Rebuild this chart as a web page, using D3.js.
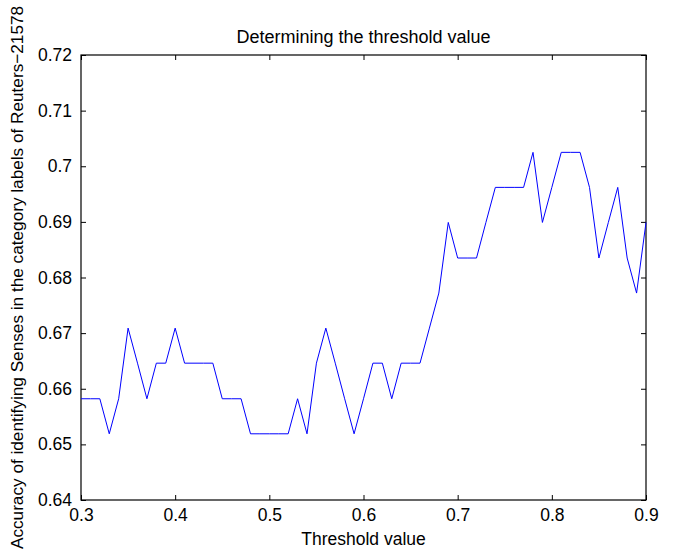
<!DOCTYPE html>
<html>
<head>
<meta charset="utf-8">
<script src="https://cdn.jsdelivr.net/npm/d3@7"></script>
<style>
  body { margin: 0; background: #fff; }
  svg { display: block; font-family: "Liberation Sans", Arial, sans-serif; }
</style>
</head>
<body>
<svg width="676" height="554"></svg>
<script>
let width = 676,
  height = 554;

// threshold values and accuracy
let thresholds = [0.30, 0.31, 0.32, 0.33, 0.34, 0.35, 0.36, 0.37, 0.38, 0.39,
  0.40, 0.41, 0.42, 0.43, 0.44, 0.45, 0.46, 0.47, 0.48, 0.49,
  0.50, 0.51, 0.52, 0.53, 0.54, 0.55, 0.56, 0.57, 0.58, 0.59,
  0.60, 0.61, 0.62, 0.63, 0.64, 0.65, 0.66, 0.67, 0.68, 0.69,
  0.70, 0.71, 0.72, 0.73, 0.74, 0.75, 0.76, 0.77, 0.78, 0.79,
  0.80, 0.81, 0.82, 0.83, 0.84, 0.85, 0.86, 0.87, 0.88, 0.89, 0.90];
let accuracy = [0.6582, 0.6582, 0.6582, 0.6519, 0.6582, 0.6709, 0.6646, 0.6582, 0.6646, 0.6646,
  0.6709, 0.6646, 0.6646, 0.6646, 0.6646, 0.6582, 0.6582, 0.6582, 0.6519, 0.6519,
  0.6519, 0.6519, 0.6519, 0.6582, 0.6519, 0.6646, 0.6709, 0.6646, 0.6582, 0.6519,
  0.6582, 0.6646, 0.6646, 0.6582, 0.6646, 0.6646, 0.6646, 0.6709, 0.6772, 0.6899,
  0.6835, 0.6835, 0.6835, 0.6899, 0.6962, 0.6962, 0.6962, 0.6962, 0.7025, 0.6899,
  0.6962, 0.7025, 0.7025, 0.7025, 0.6962, 0.6835, 0.6899, 0.6962, 0.6835, 0.6772, 0.6899];

let xTicks = [0.3, 0.4, 0.5, 0.6, 0.7, 0.8, 0.9];
let yTicks = [0.64, 0.65, 0.66, 0.67, 0.68, 0.69, 0.7, 0.71, 0.72];

let titleText = "Determining the threshold value";
let xLabel = "Threshold value";
let yLabel = "Accuracy of identifying Senses in the category labels of Reuters\u221221578";

let plotLeft = 81, plotRight = 646, plotTop = 55, plotBottom = 500;

let svg = d3.select("svg");

let x = d3.scaleLinear().domain([0.3, 0.9]).range([plotLeft, plotRight]);
let y = d3.scaleLinear().domain([0.64, 0.72]).range([plotBottom, plotTop]);

let fmt = (d) => String(+d.toFixed(2));

// axes, ticks pointing inward (matlab style)
let xAxis = svg.append("g")
  .attr("transform", "translate(0," + plotBottom + ")")
  .call(d3.axisBottom(x).tickValues(xTicks).tickSize(-5).tickPadding(9).tickFormat(fmt));
let xAxisTop = svg.append("g")
  .attr("transform", "translate(0," + plotTop + ")")
  .call(d3.axisTop(x).tickValues(xTicks).tickSize(-5).tickFormat(""));
let yAxis = svg.append("g")
  .attr("transform", "translate(" + plotLeft + ",0)")
  .call(d3.axisLeft(y).tickValues(yTicks).tickSize(-5).tickPadding(9).tickFormat(fmt));
let yAxisRight = svg.append("g")
  .attr("transform", "translate(" + plotRight + ",0)")
  .call(d3.axisRight(y).tickValues(yTicks).tickSize(-5).tickFormat(""));

[xAxis, xAxisTop, yAxis, yAxisRight].forEach((g) => {
  g.select(".domain").remove();
  g.selectAll(".tick line").attr("stroke", "#000").attr("stroke-width", 1);
  g.selectAll("text")
    .attr("fill", "#000")
    .style("font-size", "17.5px")
    .style("font-family", "'Liberation Sans', Arial, sans-serif");
});

// frame
svg.append("rect")
  .attr("x", plotLeft)
  .attr("y", plotTop)
  .attr("width", plotRight - plotLeft)
  .attr("height", plotBottom - plotTop)
  .attr("fill", "none")
  .attr("stroke", "#000")
  .attr("stroke-width", 1.2);

// data line
let line = d3.line()
  .x((d, i) => x(thresholds[i]))
  .y((d) => y(d));

svg.append("path")
  .datum(accuracy)
  .attr("d", line)
  .attr("fill", "none")
  .attr("stroke", "#0000ff")
  .attr("stroke-width", 1);

// labels
svg.append("text")
  .attr("x", (plotLeft + plotRight) / 2)
  .attr("y", 43)
  .attr("text-anchor", "middle")
  .style("font-size", "18px")
  .text(titleText);

svg.append("text")
  .attr("x", (plotLeft + plotRight) / 2)
  .attr("y", 545)
  .attr("text-anchor", "middle")
  .style("font-size", "17.5px")
  .text(xLabel);

svg.append("text")
  .attr("transform", "translate(23," + (plotTop + plotBottom) / 2 + ") rotate(-90)")
  .attr("text-anchor", "middle")
  .style("font-size", "17.2px")
  .text(yLabel);
</script>
</body>
</html>
